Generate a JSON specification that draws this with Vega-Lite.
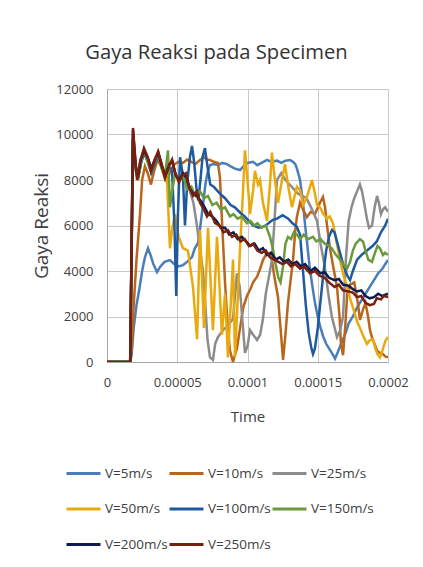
{
  "$schema": "https://vega.github.io/schema/vega-lite/v6.json",
  "width": 281,
  "height": 273,
  "autosize": {"type": "none"},
  "padding": {"left": 107, "top": 89, "right": 35, "bottom": 205},
  "background": "white",
  "title": {
    "text": "Gaya Reaksi pada Specimen",
    "font": "Open Sans",
    "fontSize": 20.2,
    "fontWeight": "normal",
    "color": "#333333",
    "anchor": "middle",
    "dx": -31,
    "offset": 4,
    "baseline": "alphabetic"
  },
  "config": {
    "view": {"stroke": null},
    "axis": {
      "labelFont": "Open Sans",
      "titleFont": "Open Sans",
      "labelColor": "#404040",
      "titleColor": "#404040",
      "titleFontWeight": "normal",
      "gridColor": "#C8C8C8",
      "gridWidth": 1,
      "domainColor": "#A6A6A6",
      "ticks": false,
      "tickSize": 0
    },
    "legend": {
      "labelFont": "Open Sans",
      "labelColor": "#404040",
      "labelFontSize": 13.5
    }
  },
  "data": {
    "values": [
      {"s":"V=5m/s","t":0,"v":0},{"s":"V=5m/s","t":16.5e-6,"v":0},{"s":"V=5m/s","t":17.5e-6,"v":300},{"s":"V=5m/s","t":19e-6,"v":1500},{"s":"V=5m/s","t":21e-6,"v":2500},{"s":"V=5m/s","t":23e-6,"v":3200},{"s":"V=5m/s","t":25e-6,"v":4000},{"s":"V=5m/s","t":27e-6,"v":4600},{"s":"V=5m/s","t":29.2e-6,"v":5000},{"s":"V=5m/s","t":31e-6,"v":4700},{"s":"V=5m/s","t":33e-6,"v":4300},{"s":"V=5m/s","t":35.6e-6,"v":3950},{"s":"V=5m/s","t":38e-6,"v":4200},{"s":"V=5m/s","t":41e-6,"v":4400},{"s":"V=5m/s","t":44.8e-6,"v":4480},{"s":"V=5m/s","t":48e-6,"v":4300},{"s":"V=5m/s","t":51e-6,"v":4200},{"s":"V=5m/s","t":54.1e-6,"v":4260},{"s":"V=5m/s","t":57e-6,"v":4400},{"s":"V=5m/s","t":60.5e-6,"v":4615},{"s":"V=5m/s","t":62.5e-6,"v":5000},{"s":"V=5m/s","t":64.8e-6,"v":5230},{"s":"V=5m/s","t":66.5e-6,"v":6000},{"s":"V=5m/s","t":68.5e-6,"v":7000},{"s":"V=5m/s","t":70e-6,"v":7800},{"s":"V=5m/s","t":71.5e-6,"v":8300},{"s":"V=5m/s","t":73.3e-6,"v":8660},{"s":"V=5m/s","t":76e-6,"v":8700},{"s":"V=5m/s","t":79e-6,"v":8650},{"s":"V=5m/s","t":82e-6,"v":8750},{"s":"V=5m/s","t":85.4e-6,"v":8700},{"s":"V=5m/s","t":88e-6,"v":8600},{"s":"V=5m/s","t":91e-6,"v":8500},{"s":"V=5m/s","t":94.7e-6,"v":8440},{"s":"V=5m/s","t":97e-6,"v":8600},{"s":"V=5m/s","t":100e-6,"v":8750},{"s":"V=5m/s","t":103.9e-6,"v":8800},{"s":"V=5m/s","t":107e-6,"v":8650},{"s":"V=5m/s","t":110e-6,"v":8750},{"s":"V=5m/s","t":113.9e-6,"v":8880},{"s":"V=5m/s","t":117e-6,"v":8800},{"s":"V=5m/s","t":121e-6,"v":8850},{"s":"V=5m/s","t":124e-6,"v":8750},{"s":"V=5m/s","t":127e-6,"v":8850},{"s":"V=5m/s","t":130.2e-6,"v":8880},{"s":"V=5m/s","t":132.4e-6,"v":8800},{"s":"V=5m/s","t":134e-6,"v":8700},{"s":"V=5m/s","t":135.2e-6,"v":8500},{"s":"V=5m/s","t":137.4e-6,"v":8000},{"s":"V=5m/s","t":139.5e-6,"v":7000},{"s":"V=5m/s","t":141e-6,"v":6000},{"s":"V=5m/s","t":142.3e-6,"v":5300},{"s":"V=5m/s","t":144e-6,"v":4300},{"s":"V=5m/s","t":146e-6,"v":3400},{"s":"V=5m/s","t":148e-6,"v":2600},{"s":"V=5m/s","t":150e-6,"v":2000},{"s":"V=5m/s","t":152e-6,"v":1500},{"s":"V=5m/s","t":154e-6,"v":1100},{"s":"V=5m/s","t":156e-6,"v":800},{"s":"V=5m/s","t":158e-6,"v":600},{"s":"V=5m/s","t":160e-6,"v":400},{"s":"V=5m/s","t":162.3e-6,"v":150},{"s":"V=5m/s","t":164e-6,"v":400},{"s":"V=5m/s","t":166e-6,"v":700},{"s":"V=5m/s","t":168e-6,"v":1000},{"s":"V=5m/s","t":170e-6,"v":1300},{"s":"V=5m/s","t":172e-6,"v":1700},{"s":"V=5m/s","t":175e-6,"v":2000},{"s":"V=5m/s","t":178e-6,"v":2400},{"s":"V=5m/s","t":181e-6,"v":2700},{"s":"V=5m/s","t":184e-6,"v":3000},{"s":"V=5m/s","t":187e-6,"v":3300},{"s":"V=5m/s","t":190e-6,"v":3600},{"s":"V=5m/s","t":193e-6,"v":3900},{"s":"V=5m/s","t":196e-6,"v":4100},{"s":"V=5m/s","t":198e-6,"v":4300},{"s":"V=5m/s","t":200e-6,"v":4480},

      {"s":"V=10m/s","t":0,"v":0},{"s":"V=10m/s","t":16.5e-6,"v":0},{"s":"V=10m/s","t":17.5e-6,"v":500},{"s":"V=10m/s","t":19e-6,"v":2500},{"s":"V=10m/s","t":21e-6,"v":4500},{"s":"V=10m/s","t":23.5e-6,"v":6500},{"s":"V=10m/s","t":25e-6,"v":8000},{"s":"V=10m/s","t":27e-6,"v":8600},{"s":"V=10m/s","t":29e-6,"v":8300},{"s":"V=10m/s","t":31.3e-6,"v":7800},{"s":"V=10m/s","t":33.5e-6,"v":8400},{"s":"V=10m/s","t":36e-6,"v":8900},{"s":"V=10m/s","t":38.5e-6,"v":8600},{"s":"V=10m/s","t":41e-6,"v":8100},{"s":"V=10m/s","t":42.7e-6,"v":7900},{"s":"V=10m/s","t":45e-6,"v":8400},{"s":"V=10m/s","t":48e-6,"v":8700},{"s":"V=10m/s","t":51e-6,"v":8800},{"s":"V=10m/s","t":54.1e-6,"v":8750},{"s":"V=10m/s","t":57e-6,"v":8900},{"s":"V=10m/s","t":60e-6,"v":8800},{"s":"V=10m/s","t":63e-6,"v":8700},{"s":"V=10m/s","t":66.2e-6,"v":8880},{"s":"V=10m/s","t":69e-6,"v":9000},{"s":"V=10m/s","t":71e-6,"v":8900},{"s":"V=10m/s","t":73.3e-6,"v":8880},{"s":"V=10m/s","t":76e-6,"v":8800},{"s":"V=10m/s","t":79e-6,"v":8750},{"s":"V=10m/s","t":80.4e-6,"v":8100},{"s":"V=10m/s","t":82e-6,"v":6000},{"s":"V=10m/s","t":84e-6,"v":3500},{"s":"V=10m/s","t":86e-6,"v":1500},{"s":"V=10m/s","t":87.5e-6,"v":500},{"s":"V=10m/s","t":89.7e-6,"v":0},{"s":"V=10m/s","t":91e-6,"v":300},{"s":"V=10m/s","t":92.5e-6,"v":600},{"s":"V=10m/s","t":94.7e-6,"v":1500},{"s":"V=10m/s","t":97e-6,"v":2400},{"s":"V=10m/s","t":99.6e-6,"v":2900},{"s":"V=10m/s","t":102e-6,"v":3200},{"s":"V=10m/s","t":104e-6,"v":3500},{"s":"V=10m/s","t":106.8e-6,"v":3750},{"s":"V=10m/s","t":109e-6,"v":4100},{"s":"V=10m/s","t":111e-6,"v":4480},{"s":"V=10m/s","t":113e-6,"v":4700},{"s":"V=10m/s","t":116e-6,"v":4790},{"s":"V=10m/s","t":117.4e-6,"v":4500},{"s":"V=10m/s","t":119e-6,"v":3800},{"s":"V=10m/s","t":121.7e-6,"v":2860},{"s":"V=10m/s","t":123.5e-6,"v":1500},{"s":"V=10m/s","t":125.3e-6,"v":90},{"s":"V=10m/s","t":127e-6,"v":1200},{"s":"V=10m/s","t":128.8e-6,"v":2600},{"s":"V=10m/s","t":130.5e-6,"v":3500},{"s":"V=10m/s","t":132.4e-6,"v":4480},{"s":"V=10m/s","t":134e-6,"v":5800},{"s":"V=10m/s","t":135.2e-6,"v":6400},{"s":"V=10m/s","t":137.4e-6,"v":7000},{"s":"V=10m/s","t":139.5e-6,"v":6700},{"s":"V=10m/s","t":142.3e-6,"v":6370},{"s":"V=10m/s","t":145e-6,"v":6600},{"s":"V=10m/s","t":148e-6,"v":6500},{"s":"V=10m/s","t":151.6e-6,"v":7000},{"s":"V=10m/s","t":153.7e-6,"v":7250},{"s":"V=10m/s","t":155.2e-6,"v":6800},{"s":"V=10m/s","t":156.6e-6,"v":6000},{"s":"V=10m/s","t":158.7e-6,"v":5000},{"s":"V=10m/s","t":161e-6,"v":4200},{"s":"V=10m/s","t":163.7e-6,"v":3300},{"s":"V=10m/s","t":165.5e-6,"v":2000},{"s":"V=10m/s","t":166.5e-6,"v":800},{"s":"V=10m/s","t":168e-6,"v":300},{"s":"V=10m/s","t":169.5e-6,"v":1500},{"s":"V=10m/s","t":171e-6,"v":3000},{"s":"V=10m/s","t":173e-6,"v":3400},{"s":"V=10m/s","t":176e-6,"v":3500},{"s":"V=10m/s","t":178.5e-6,"v":2600},{"s":"V=10m/s","t":180.1e-6,"v":1850},{"s":"V=10m/s","t":182.2e-6,"v":2300},{"s":"V=10m/s","t":184e-6,"v":2600},{"s":"V=10m/s","t":185.8e-6,"v":2000},{"s":"V=10m/s","t":187.2e-6,"v":1400},{"s":"V=10m/s","t":189e-6,"v":1000},{"s":"V=10m/s","t":191e-6,"v":700},{"s":"V=10m/s","t":192.2e-6,"v":500},{"s":"V=10m/s","t":194.3e-6,"v":400},{"s":"V=10m/s","t":196.4e-6,"v":350},{"s":"V=10m/s","t":198e-6,"v":250},{"s":"V=10m/s","t":200e-6,"v":200},

      {"s":"V=25m/s","t":0,"v":0},{"s":"V=25m/s","t":16.5e-6,"v":0},{"s":"V=25m/s","t":18.5e-6,"v":9700},{"s":"V=25m/s","t":20.5e-6,"v":8400},{"s":"V=25m/s","t":22e-6,"v":8000},{"s":"V=25m/s","t":24.5e-6,"v":8900},{"s":"V=25m/s","t":26.5e-6,"v":9300},{"s":"V=25m/s","t":29e-6,"v":8900},{"s":"V=25m/s","t":31.5e-6,"v":8400},{"s":"V=25m/s","t":34e-6,"v":8700},{"s":"V=25m/s","t":36.5e-6,"v":9200},{"s":"V=25m/s","t":39e-6,"v":8600},{"s":"V=25m/s","t":41.5e-6,"v":8200},{"s":"V=25m/s","t":44e-6,"v":8700},{"s":"V=25m/s","t":46.5e-6,"v":8800},{"s":"V=25m/s","t":49e-6,"v":8200},{"s":"V=25m/s","t":51.5e-6,"v":8000},{"s":"V=25m/s","t":54e-6,"v":8100},{"s":"V=25m/s","t":56.5e-6,"v":7900},{"s":"V=25m/s","t":59e-6,"v":7500},{"s":"V=25m/s","t":61.5e-6,"v":7000},{"s":"V=25m/s","t":64e-6,"v":6000},{"s":"V=25m/s","t":66.5e-6,"v":4800},{"s":"V=25m/s","t":68.3e-6,"v":4000},{"s":"V=25m/s","t":70e-6,"v":2500},{"s":"V=25m/s","t":71.5e-6,"v":1000},{"s":"V=25m/s","t":73.3e-6,"v":200},{"s":"V=25m/s","t":75.4e-6,"v":90},{"s":"V=25m/s","t":77e-6,"v":800},{"s":"V=25m/s","t":79e-6,"v":1100},{"s":"V=25m/s","t":82.6e-6,"v":1400},{"s":"V=25m/s","t":86e-6,"v":1600},{"s":"V=25m/s","t":89.7e-6,"v":1900},{"s":"V=25m/s","t":92.5e-6,"v":3900},{"s":"V=25m/s","t":94.5e-6,"v":3300},{"s":"V=25m/s","t":96.8e-6,"v":1500},{"s":"V=25m/s","t":98.2e-6,"v":400},{"s":"V=25m/s","t":100e-6,"v":700},{"s":"V=25m/s","t":101.8e-6,"v":1400},{"s":"V=25m/s","t":104e-6,"v":1200},{"s":"V=25m/s","t":106.8e-6,"v":970},{"s":"V=25m/s","t":109e-6,"v":1200},{"s":"V=25m/s","t":111e-6,"v":1900},{"s":"V=25m/s","t":113e-6,"v":3000},{"s":"V=25m/s","t":116e-6,"v":4000},{"s":"V=25m/s","t":117.4e-6,"v":4500},{"s":"V=25m/s","t":119e-6,"v":6000},{"s":"V=25m/s","t":121e-6,"v":8000},{"s":"V=25m/s","t":124e-6,"v":8300},{"s":"V=25m/s","t":127e-6,"v":8000},{"s":"V=25m/s","t":130e-6,"v":7800},{"s":"V=25m/s","t":133e-6,"v":7600},{"s":"V=25m/s","t":136e-6,"v":7400},{"s":"V=25m/s","t":139e-6,"v":7300},{"s":"V=25m/s","t":142e-6,"v":7200},{"s":"V=25m/s","t":146e-6,"v":6700},{"s":"V=25m/s","t":149.5e-6,"v":6200},{"s":"V=25m/s","t":152e-6,"v":5200},{"s":"V=25m/s","t":155e-6,"v":4200},{"s":"V=25m/s","t":157.5e-6,"v":3000},{"s":"V=25m/s","t":160e-6,"v":2000},{"s":"V=25m/s","t":163.7e-6,"v":1100},{"s":"V=25m/s","t":166e-6,"v":1400},{"s":"V=25m/s","t":168e-6,"v":2000},{"s":"V=25m/s","t":170e-6,"v":4500},{"s":"V=25m/s","t":172e-6,"v":6200},{"s":"V=25m/s","t":174e-6,"v":6800},{"s":"V=25m/s","t":176e-6,"v":7200},{"s":"V=25m/s","t":178e-6,"v":7500},{"s":"V=25m/s","t":180e-6,"v":7800},{"s":"V=25m/s","t":181.5e-6,"v":7500},{"s":"V=25m/s","t":183e-6,"v":7000},{"s":"V=25m/s","t":185e-6,"v":6300},{"s":"V=25m/s","t":186.5e-6,"v":5900},{"s":"V=25m/s","t":188.6e-6,"v":6000},{"s":"V=25m/s","t":190.5e-6,"v":6800},{"s":"V=25m/s","t":192.2e-6,"v":7300},{"s":"V=25m/s","t":193.5e-6,"v":7000},{"s":"V=25m/s","t":195e-6,"v":6500},{"s":"V=25m/s","t":196.4e-6,"v":6700},{"s":"V=25m/s","t":198e-6,"v":6800},{"s":"V=25m/s","t":200e-6,"v":6600},

      {"s":"V=50m/s","t":0,"v":0},{"s":"V=50m/s","t":16.5e-6,"v":0},{"s":"V=50m/s","t":18.5e-6,"v":9500},{"s":"V=50m/s","t":20.5e-6,"v":8500},{"s":"V=50m/s","t":22e-6,"v":8100},{"s":"V=50m/s","t":24.5e-6,"v":8900},{"s":"V=50m/s","t":26.5e-6,"v":9300},{"s":"V=50m/s","t":29e-6,"v":8800},{"s":"V=50m/s","t":31.5e-6,"v":8400},{"s":"V=50m/s","t":34e-6,"v":8800},{"s":"V=50m/s","t":36.5e-6,"v":9200},{"s":"V=50m/s","t":39e-6,"v":8600},{"s":"V=50m/s","t":41.3e-6,"v":8400},{"s":"V=50m/s","t":42.7e-6,"v":8000},{"s":"V=50m/s","t":44.8e-6,"v":5000},{"s":"V=50m/s","t":46.3e-6,"v":5800},{"s":"V=50m/s","t":48.4e-6,"v":6500},{"s":"V=50m/s","t":51e-6,"v":5500},{"s":"V=50m/s","t":54.1e-6,"v":5000},{"s":"V=50m/s","t":57.6e-6,"v":4900},{"s":"V=50m/s","t":61.2e-6,"v":3300},{"s":"V=50m/s","t":64.1e-6,"v":1000},{"s":"V=50m/s","t":66.2e-6,"v":5800},{"s":"V=50m/s","t":69e-6,"v":1500},{"s":"V=50m/s","t":71.9e-6,"v":5900},{"s":"V=50m/s","t":75.4e-6,"v":1400},{"s":"V=50m/s","t":78.3e-6,"v":5500},{"s":"V=50m/s","t":81.8e-6,"v":1200},{"s":"V=50m/s","t":84e-6,"v":3000},{"s":"V=50m/s","t":86.1e-6,"v":200},{"s":"V=50m/s","t":89.7e-6,"v":4500},{"s":"V=50m/s","t":91.1e-6,"v":200},{"s":"V=50m/s","t":93.2e-6,"v":3000},{"s":"V=50m/s","t":94.7e-6,"v":5000},{"s":"V=50m/s","t":96.8e-6,"v":7500},{"s":"V=50m/s","t":98.2e-6,"v":9300},{"s":"V=50m/s","t":100e-6,"v":8000},{"s":"V=50m/s","t":101.8e-6,"v":6500},{"s":"V=50m/s","t":103.9e-6,"v":7500},{"s":"V=50m/s","t":105.3e-6,"v":8400},{"s":"V=50m/s","t":107.5e-6,"v":7800},{"s":"V=50m/s","t":108.9e-6,"v":8000},{"s":"V=50m/s","t":111e-6,"v":7000},{"s":"V=50m/s","t":113.9e-6,"v":6200},{"s":"V=50m/s","t":116e-6,"v":7800},{"s":"V=50m/s","t":117.4e-6,"v":9200},{"s":"V=50m/s","t":119.5e-6,"v":8000},{"s":"V=50m/s","t":121.7e-6,"v":7000},{"s":"V=50m/s","t":124e-6,"v":7800},{"s":"V=50m/s","t":126.7e-6,"v":8700},{"s":"V=50m/s","t":129e-6,"v":7700},{"s":"V=50m/s","t":131.7e-6,"v":6800},{"s":"V=50m/s","t":133.5e-6,"v":7300},{"s":"V=50m/s","t":135.2e-6,"v":7700},{"s":"V=50m/s","t":137.4e-6,"v":7560},{"s":"V=50m/s","t":139.5e-6,"v":6900},{"s":"V=50m/s","t":142.3e-6,"v":7250},{"s":"V=50m/s","t":145.9e-6,"v":8000},{"s":"V=50m/s","t":148e-6,"v":7400},{"s":"V=50m/s","t":149.5e-6,"v":6900},{"s":"V=50m/s","t":151.6e-6,"v":6800},{"s":"V=50m/s","t":154e-6,"v":6500},{"s":"V=50m/s","t":156.6e-6,"v":6300},{"s":"V=50m/s","t":158.5e-6,"v":6400},{"s":"V=50m/s","t":160.8e-6,"v":6100},{"s":"V=50m/s","t":163e-6,"v":5400},{"s":"V=50m/s","t":165.8e-6,"v":4500},{"s":"V=50m/s","t":168e-6,"v":3900},{"s":"V=50m/s","t":170.8e-6,"v":3300},{"s":"V=50m/s","t":173e-6,"v":2800},{"s":"V=50m/s","t":176e-6,"v":2200},{"s":"V=50m/s","t":177.9e-6,"v":1800},{"s":"V=50m/s","t":180e-6,"v":1500},{"s":"V=50m/s","t":182e-6,"v":1200},{"s":"V=50m/s","t":185e-6,"v":800},{"s":"V=50m/s","t":187e-6,"v":950},{"s":"V=50m/s","t":189.3e-6,"v":1000},{"s":"V=50m/s","t":191e-6,"v":600},{"s":"V=50m/s","t":192.5e-6,"v":350},{"s":"V=50m/s","t":194.3e-6,"v":200},{"s":"V=50m/s","t":196e-6,"v":500},{"s":"V=50m/s","t":198e-6,"v":900},{"s":"V=50m/s","t":200e-6,"v":1100},

      {"s":"V=100m/s","t":0,"v":0},{"s":"V=100m/s","t":16.5e-6,"v":0},{"s":"V=100m/s","t":18.5e-6,"v":9900},{"s":"V=100m/s","t":20.5e-6,"v":8500},{"s":"V=100m/s","t":22e-6,"v":8100},{"s":"V=100m/s","t":24.5e-6,"v":8800},{"s":"V=100m/s","t":26.5e-6,"v":9200},{"s":"V=100m/s","t":29.5e-6,"v":8700},{"s":"V=100m/s","t":31.5e-6,"v":8300},{"s":"V=100m/s","t":34e-6,"v":8700},{"s":"V=100m/s","t":36.5e-6,"v":9100},{"s":"V=100m/s","t":39e-6,"v":8600},{"s":"V=100m/s","t":41.5e-6,"v":8200},{"s":"V=100m/s","t":44e-6,"v":8600},{"s":"V=100m/s","t":46.3e-6,"v":8400},{"s":"V=100m/s","t":48e-6,"v":6000},{"s":"V=100m/s","t":49.3e-6,"v":2900},{"s":"V=100m/s","t":50.5e-6,"v":6500},{"s":"V=100m/s","t":52e-6,"v":9000},{"s":"V=100m/s","t":54e-6,"v":8200},{"s":"V=100m/s","t":55.5e-6,"v":6000},{"s":"V=100m/s","t":57e-6,"v":7800},{"s":"V=100m/s","t":59e-6,"v":9000},{"s":"V=100m/s","t":60.5e-6,"v":9500},{"s":"V=100m/s","t":62e-6,"v":8800},{"s":"V=100m/s","t":64e-6,"v":7400},{"s":"V=100m/s","t":65e-6,"v":7100},{"s":"V=100m/s","t":66.5e-6,"v":8000},{"s":"V=100m/s","t":68e-6,"v":9000},{"s":"V=100m/s","t":69.7e-6,"v":9400},{"s":"V=100m/s","t":71.5e-6,"v":8600},{"s":"V=100m/s","t":73.5e-6,"v":7800},{"s":"V=100m/s","t":76e-6,"v":7700},{"s":"V=100m/s","t":80.4e-6,"v":7400},{"s":"V=100m/s","t":84e-6,"v":7200},{"s":"V=100m/s","t":88e-6,"v":6900},{"s":"V=100m/s","t":91e-6,"v":6800},{"s":"V=100m/s","t":95e-6,"v":6550},{"s":"V=100m/s","t":98e-6,"v":6400},{"s":"V=100m/s","t":101e-6,"v":6200},{"s":"V=100m/s","t":104e-6,"v":6000},{"s":"V=100m/s","t":108e-6,"v":5900},{"s":"V=100m/s","t":111e-6,"v":5950},{"s":"V=100m/s","t":113e-6,"v":6000},{"s":"V=100m/s","t":116e-6,"v":6150},{"s":"V=100m/s","t":118e-6,"v":6250},{"s":"V=100m/s","t":121e-6,"v":6300},{"s":"V=100m/s","t":125e-6,"v":6450},{"s":"V=100m/s","t":129e-6,"v":6300},{"s":"V=100m/s","t":132e-6,"v":6100},{"s":"V=100m/s","t":135e-6,"v":5950},{"s":"V=100m/s","t":137.4e-6,"v":5600},{"s":"V=100m/s","t":139.5e-6,"v":4000},{"s":"V=100m/s","t":141.5e-6,"v":2500},{"s":"V=100m/s","t":143.5e-6,"v":1300},{"s":"V=100m/s","t":145.5e-6,"v":600},{"s":"V=100m/s","t":146.6e-6,"v":350},{"s":"V=100m/s","t":148e-6,"v":600},{"s":"V=100m/s","t":150e-6,"v":1500},{"s":"V=100m/s","t":152e-6,"v":2700},{"s":"V=100m/s","t":154e-6,"v":3900},{"s":"V=100m/s","t":156e-6,"v":4900},{"s":"V=100m/s","t":158e-6,"v":5500},{"s":"V=100m/s","t":160.1e-6,"v":5800},{"s":"V=100m/s","t":162e-6,"v":5700},{"s":"V=100m/s","t":165e-6,"v":5000},{"s":"V=100m/s","t":168e-6,"v":4300},{"s":"V=100m/s","t":171e-6,"v":3800},{"s":"V=100m/s","t":173e-6,"v":3600},{"s":"V=100m/s","t":175e-6,"v":4000},{"s":"V=100m/s","t":178e-6,"v":4500},{"s":"V=100m/s","t":181e-6,"v":4700},{"s":"V=100m/s","t":185e-6,"v":4900},{"s":"V=100m/s","t":189e-6,"v":5100},{"s":"V=100m/s","t":192e-6,"v":5300},{"s":"V=100m/s","t":195e-6,"v":5700},{"s":"V=100m/s","t":198e-6,"v":6000},{"s":"V=100m/s","t":200e-6,"v":6300},

      {"s":"V=150m/s","t":0,"v":0},{"s":"V=150m/s","t":16.5e-6,"v":0},{"s":"V=150m/s","t":18.5e-6,"v":9800},{"s":"V=150m/s","t":20.5e-6,"v":8400},{"s":"V=150m/s","t":22e-6,"v":8000},{"s":"V=150m/s","t":24.5e-6,"v":8900},{"s":"V=150m/s","t":26.5e-6,"v":9300},{"s":"V=150m/s","t":29e-6,"v":8800},{"s":"V=150m/s","t":31.5e-6,"v":8400},{"s":"V=150m/s","t":34e-6,"v":8800},{"s":"V=150m/s","t":36.5e-6,"v":9200},{"s":"V=150m/s","t":39e-6,"v":8500},{"s":"V=150m/s","t":41.5e-6,"v":8300},{"s":"V=150m/s","t":43.4e-6,"v":9300},{"s":"V=150m/s","t":44.8e-6,"v":6800},{"s":"V=150m/s","t":46.3e-6,"v":7500},{"s":"V=150m/s","t":48.5e-6,"v":8300},{"s":"V=150m/s","t":51.2e-6,"v":8000},{"s":"V=150m/s","t":54.1e-6,"v":8200},{"s":"V=150m/s","t":57e-6,"v":7600},{"s":"V=150m/s","t":60e-6,"v":7700},{"s":"V=150m/s","t":63e-6,"v":7300},{"s":"V=150m/s","t":66.2e-6,"v":7500},{"s":"V=150m/s","t":69e-6,"v":7200},{"s":"V=150m/s","t":71.9e-6,"v":7300},{"s":"V=150m/s","t":75e-6,"v":6900},{"s":"V=150m/s","t":78e-6,"v":7000},{"s":"V=150m/s","t":81e-6,"v":6700},{"s":"V=150m/s","t":84e-6,"v":6800},{"s":"V=150m/s","t":87.5e-6,"v":6400},{"s":"V=150m/s","t":90e-6,"v":6500},{"s":"V=150m/s","t":93e-6,"v":6300},{"s":"V=150m/s","t":96e-6,"v":6400},{"s":"V=150m/s","t":99.6e-6,"v":6100},{"s":"V=150m/s","t":102e-6,"v":6200},{"s":"V=150m/s","t":105e-6,"v":6000},{"s":"V=150m/s","t":107e-6,"v":6100},{"s":"V=150m/s","t":110e-6,"v":5900},{"s":"V=150m/s","t":113e-6,"v":6000},{"s":"V=150m/s","t":116e-6,"v":5500},{"s":"V=150m/s","t":118e-6,"v":5000},{"s":"V=150m/s","t":120e-6,"v":4300},{"s":"V=150m/s","t":122e-6,"v":3700},{"s":"V=150m/s","t":123.5e-6,"v":3500},{"s":"V=150m/s","t":125.3e-6,"v":4200},{"s":"V=150m/s","t":127e-6,"v":5200},{"s":"V=150m/s","t":128.8e-6,"v":5500},{"s":"V=150m/s","t":131e-6,"v":5400},{"s":"V=150m/s","t":133e-6,"v":5700},{"s":"V=150m/s","t":135.2e-6,"v":5600},{"s":"V=150m/s","t":137.4e-6,"v":5400},{"s":"V=150m/s","t":140e-6,"v":5600},{"s":"V=150m/s","t":143e-6,"v":5400},{"s":"V=150m/s","t":146.6e-6,"v":5500},{"s":"V=150m/s","t":149e-6,"v":5300},{"s":"V=150m/s","t":152e-6,"v":5400},{"s":"V=150m/s","t":155e-6,"v":5200},{"s":"V=150m/s","t":158e-6,"v":5100},{"s":"V=150m/s","t":160e-6,"v":5000},{"s":"V=150m/s","t":163e-6,"v":4700},{"s":"V=150m/s","t":166e-6,"v":4500},{"s":"V=150m/s","t":168e-6,"v":4300},{"s":"V=150m/s","t":170.8e-6,"v":4100},{"s":"V=150m/s","t":173e-6,"v":4400},{"s":"V=150m/s","t":175e-6,"v":4900},{"s":"V=150m/s","t":177e-6,"v":5200},{"s":"V=150m/s","t":180e-6,"v":5400},{"s":"V=150m/s","t":182.2e-6,"v":5300},{"s":"V=150m/s","t":184e-6,"v":4900},{"s":"V=150m/s","t":186e-6,"v":4500},{"s":"V=150m/s","t":188.6e-6,"v":4400},{"s":"V=150m/s","t":190.7e-6,"v":4800},{"s":"V=150m/s","t":192.5e-6,"v":5100},{"s":"V=150m/s","t":194.3e-6,"v":5000},{"s":"V=150m/s","t":196.4e-6,"v":4700},{"s":"V=150m/s","t":198e-6,"v":4800},{"s":"V=150m/s","t":200e-6,"v":4700},

      {"s":"V=200m/s","t":0,"v":0},{"s":"V=200m/s","t":16.5e-6,"v":0},{"s":"V=200m/s","t":18.5e-6,"v":10200},{"s":"V=200m/s","t":20.5e-6,"v":8600},{"s":"V=200m/s","t":22e-6,"v":8100},{"s":"V=200m/s","t":24e-6,"v":8900},{"s":"V=200m/s","t":26.5e-6,"v":9300},{"s":"V=200m/s","t":29.5e-6,"v":8900},{"s":"V=200m/s","t":31.5e-6,"v":8500},{"s":"V=200m/s","t":34e-6,"v":8900},{"s":"V=200m/s","t":36.5e-6,"v":9200},{"s":"V=200m/s","t":39e-6,"v":8600},{"s":"V=200m/s","t":41.5e-6,"v":8200},{"s":"V=200m/s","t":44.5e-6,"v":8700},{"s":"V=200m/s","t":46.5e-6,"v":8800},{"s":"V=200m/s","t":49e-6,"v":8200},{"s":"V=200m/s","t":51.5e-6,"v":8000},{"s":"V=200m/s","t":54e-6,"v":8300},{"s":"V=200m/s","t":56.5e-6,"v":8100},{"s":"V=200m/s","t":59e-6,"v":7600},{"s":"V=200m/s","t":61.5e-6,"v":7400},{"s":"V=200m/s","t":64e-6,"v":7300},{"s":"V=200m/s","t":66.5e-6,"v":7100},{"s":"V=200m/s","t":69.5e-6,"v":6800},{"s":"V=200m/s","t":72e-6,"v":6500},{"s":"V=200m/s","t":75e-6,"v":6400},{"s":"V=200m/s","t":78e-6,"v":6200},{"s":"V=200m/s","t":81e-6,"v":5900},{"s":"V=200m/s","t":84e-6,"v":5900},{"s":"V=200m/s","t":87e-6,"v":5600},{"s":"V=200m/s","t":90e-6,"v":5700},{"s":"V=200m/s","t":93e-6,"v":5400},{"s":"V=200m/s","t":96e-6,"v":5500},{"s":"V=200m/s","t":99e-6,"v":5300},{"s":"V=200m/s","t":102e-6,"v":5100},{"s":"V=200m/s","t":105e-6,"v":5200},{"s":"V=200m/s","t":108e-6,"v":4900},{"s":"V=200m/s","t":111e-6,"v":5000},{"s":"V=200m/s","t":114e-6,"v":4700},{"s":"V=200m/s","t":117e-6,"v":4800},{"s":"V=200m/s","t":120e-6,"v":4500},{"s":"V=200m/s","t":123e-6,"v":4600},{"s":"V=200m/s","t":126e-6,"v":4400},{"s":"V=200m/s","t":129e-6,"v":4500},{"s":"V=200m/s","t":132e-6,"v":4300},{"s":"V=200m/s","t":135e-6,"v":4400},{"s":"V=200m/s","t":138e-6,"v":4200},{"s":"V=200m/s","t":141e-6,"v":4300},{"s":"V=200m/s","t":145e-6,"v":4000},{"s":"V=200m/s","t":148e-6,"v":4150},{"s":"V=200m/s","t":152e-6,"v":3900},{"s":"V=200m/s","t":155e-6,"v":3950},{"s":"V=200m/s","t":158e-6,"v":3700},{"s":"V=200m/s","t":162e-6,"v":3600},{"s":"V=200m/s","t":165e-6,"v":3650},{"s":"V=200m/s","t":168e-6,"v":3400},{"s":"V=200m/s","t":172e-6,"v":3350},{"s":"V=200m/s","t":175e-6,"v":3200},{"s":"V=200m/s","t":178e-6,"v":3100},{"s":"V=200m/s","t":181e-6,"v":3150},{"s":"V=200m/s","t":184e-6,"v":2900},{"s":"V=200m/s","t":187e-6,"v":2800},{"s":"V=200m/s","t":190e-6,"v":2850},{"s":"V=200m/s","t":193e-6,"v":3000},{"s":"V=200m/s","t":196e-6,"v":2900},{"s":"V=200m/s","t":200e-6,"v":3000},

      {"s":"V=250m/s","t":0,"v":0},{"s":"V=250m/s","t":16.5e-6,"v":0},{"s":"V=250m/s","t":18.5e-6,"v":10290},{"s":"V=250m/s","t":20e-6,"v":9000},{"s":"V=250m/s","t":21.4e-6,"v":8000},{"s":"V=250m/s","t":23.5e-6,"v":8800},{"s":"V=250m/s","t":26.3e-6,"v":9400},{"s":"V=250m/s","t":29e-6,"v":9000},{"s":"V=250m/s","t":31.3e-6,"v":8400},{"s":"V=250m/s","t":33.5e-6,"v":8800},{"s":"V=250m/s","t":36.3e-6,"v":9250},{"s":"V=250m/s","t":39e-6,"v":8700},{"s":"V=250m/s","t":41.3e-6,"v":8100},{"s":"V=250m/s","t":44e-6,"v":8600},{"s":"V=250m/s","t":46.3e-6,"v":8900},{"s":"V=250m/s","t":48.5e-6,"v":8300},{"s":"V=250m/s","t":51.2e-6,"v":7900},{"s":"V=250m/s","t":53.5e-6,"v":8200},{"s":"V=250m/s","t":56.2e-6,"v":8300},{"s":"V=250m/s","t":58.5e-6,"v":7700},{"s":"V=250m/s","t":61.2e-6,"v":7300},{"s":"V=250m/s","t":64e-6,"v":7500},{"s":"V=250m/s","t":66.2e-6,"v":7000},{"s":"V=250m/s","t":69e-6,"v":6700},{"s":"V=250m/s","t":71.2e-6,"v":6400},{"s":"V=250m/s","t":73.5e-6,"v":6600},{"s":"V=250m/s","t":76.9e-6,"v":6100},{"s":"V=250m/s","t":80e-6,"v":6000},{"s":"V=250m/s","t":83e-6,"v":5700},{"s":"V=250m/s","t":86e-6,"v":5800},{"s":"V=250m/s","t":89e-6,"v":5500},{"s":"V=250m/s","t":92e-6,"v":5600},{"s":"V=250m/s","t":95e-6,"v":5300},{"s":"V=250m/s","t":98e-6,"v":5400},{"s":"V=250m/s","t":101e-6,"v":5100},{"s":"V=250m/s","t":104e-6,"v":5200},{"s":"V=250m/s","t":107e-6,"v":4900},{"s":"V=250m/s","t":110e-6,"v":4800},{"s":"V=250m/s","t":113e-6,"v":4900},{"s":"V=250m/s","t":116e-6,"v":4600},{"s":"V=250m/s","t":119e-6,"v":4500},{"s":"V=250m/s","t":122e-6,"v":4400},{"s":"V=250m/s","t":125e-6,"v":4300},{"s":"V=250m/s","t":128e-6,"v":4400},{"s":"V=250m/s","t":131e-6,"v":4200},{"s":"V=250m/s","t":134e-6,"v":4300},{"s":"V=250m/s","t":137.4e-6,"v":4100},{"s":"V=250m/s","t":140e-6,"v":4200},{"s":"V=250m/s","t":144.5e-6,"v":3900},{"s":"V=250m/s","t":148e-6,"v":4000},{"s":"V=250m/s","t":151e-6,"v":3800},{"s":"V=250m/s","t":155e-6,"v":3700},{"s":"V=250m/s","t":158e-6,"v":3500},{"s":"V=250m/s","t":162e-6,"v":3300},{"s":"V=250m/s","t":165e-6,"v":3400},{"s":"V=250m/s","t":168e-6,"v":3150},{"s":"V=250m/s","t":172e-6,"v":3100},{"s":"V=250m/s","t":175e-6,"v":3050},{"s":"V=250m/s","t":178e-6,"v":2850},{"s":"V=250m/s","t":181e-6,"v":2900},{"s":"V=250m/s","t":184e-6,"v":2600},{"s":"V=250m/s","t":187e-6,"v":2500},{"s":"V=250m/s","t":190e-6,"v":2550},{"s":"V=250m/s","t":192e-6,"v":2800},{"s":"V=250m/s","t":195e-6,"v":2750},{"s":"V=250m/s","t":197e-6,"v":2900},{"s":"V=250m/s","t":200e-6,"v":2850}
    ]
  },
  "mark": {"type": "line", "strokeWidth": 2.5, "clip": true},
  "encoding": {
    "x": {
      "field": "t",
      "type": "quantitative",
      "scale": {"domain": [0, 0.0002], "nice": false},
      "axis": {
        "values": [0, 0.00005, 0.0001, 0.00015, 0.0002],
        "format": "~g",
        "labelFlush": false,
        "labelOverlap": false,
        "labelFontSize": 13,
        "labelPadding": 14,
        "title": "Time",
        "titleFontSize": 15,
        "titlePadding": 20
      }
    },
    "y": {
      "field": "v",
      "type": "quantitative",
      "scale": {"domain": [0, 12000], "nice": false},
      "axis": {
        "values": [0, 2000, 4000, 6000, 8000, 10000, 12000],
        "format": "d",
        "labelFontSize": 13,
        "labelPadding": 14,
        "title": "Gaya Reaksi",
        "titleFontSize": 19,
        "titlePadding": 4
      }
    },
    "color": {
      "field": "s",
      "type": "nominal",
      "scale": {
        "domain": ["V=5m/s", "V=10m/s", "V=25m/s", "V=50m/s", "V=100m/s", "V=150m/s", "V=200m/s", "V=250m/s"],
        "range": ["#4A7EB8", "#B9661C", "#8C8C8C", "#EAA90C", "#1F5A9E", "#6A9A3C", "#0E1C4E", "#7A1E0E"]
      },
      "legend": {
        "title": null,
        "orient": "none",
        "legendX": -42,
        "legendY": 366,
        "direction": "horizontal",
        "columns": 3,
        "gridAlign": "all",
        "symbolType": "stroke",
        "symbolSize": 1156,
        "symbolStrokeWidth": 3,
        "labelOffset": 3,
        "columnPadding": -6,
        "rowPadding": 10.5,
        "labelLimit": 100
      }
    }
  }
}
